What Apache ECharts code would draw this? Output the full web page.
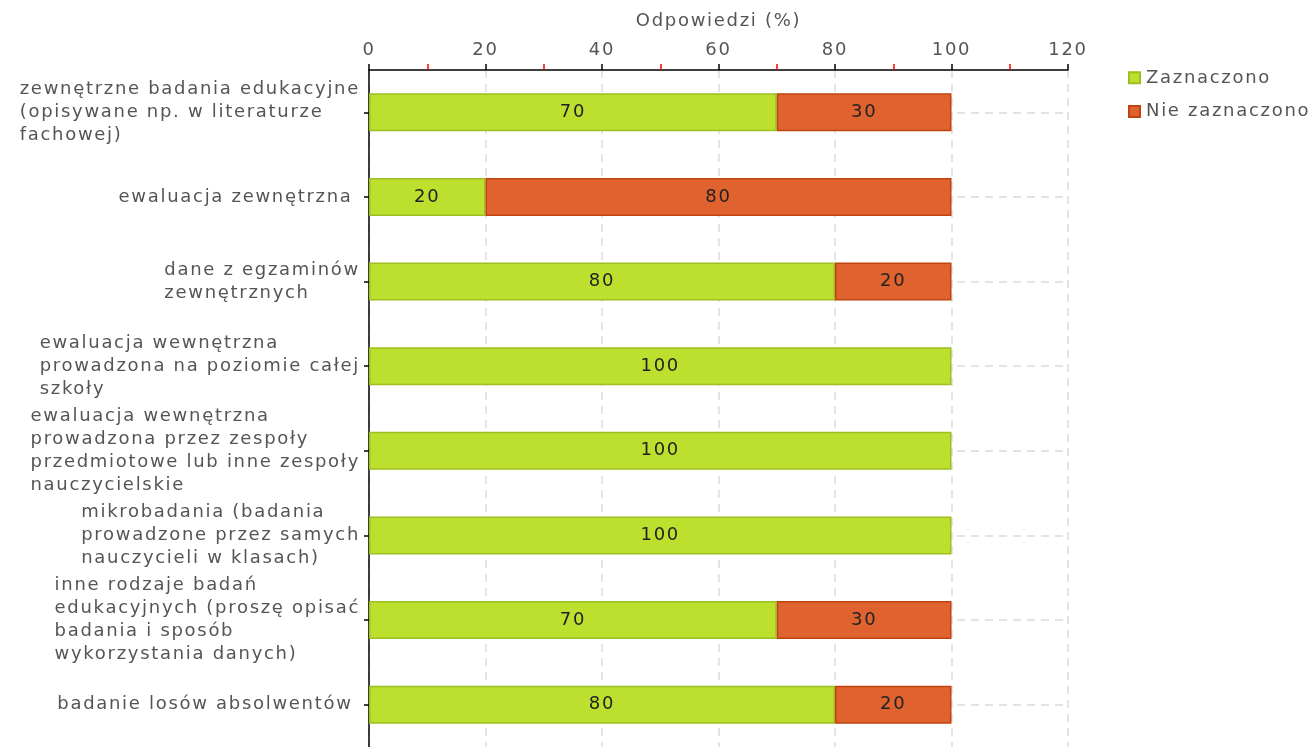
<!DOCTYPE html>
<html>
<head>
<meta charset="utf-8">
<script src="https://cdn.jsdelivr.net/npm/echarts@6/dist/echarts.min.js"></script>
<style>
html,body{margin:0;padding:0;background:#fff;}
#chart{width:1312px;height:747px;}
</style>
</head>
<body>
<div id="chart"></div>
<script>
const categories = [
  "zewnętrzne badania edukacyjne\n(opisywane np. w literaturze\nfachowej)",
  "ewaluacja zewnętrzna ",
  "dane z egzaminów\nzewnętrznych",
  "ewaluacja wewnętrzna\nprowadzona na poziomie całej\nszkoły",
  "ewaluacja wewnętrzna\nprowadzona przez zespoły\nprzedmiotowe lub inne zespoły\nnauczycielskie",
  "mikrobadania (badania\nprowadzone przez samych\nnauczycieli w klasach)",
  "inne rodzaje badań\nedukacyjnych (proszę opisać\nbadania i sposób\nwykorzystania danych)",
  "badanie losów absolwentów "
];
const seriesNames = ["Zaznaczono", "Nie zaznaczono"];
const zaznaczono = [70, 20, 80, 100, 100, 100, 70, 80];
const nieZaznaczono = [30, 80, 20, 0, 0, 0, 30, 20];
const axisTicks = [0, 20, 40, 60, 80, 100, 120];

// wider letter spacing, as in the reference rendering
(function () {
  const LS = '1.7px';
  const P = CanvasRenderingContext2D.prototype;
  const ft = P.fillText, st = P.strokeText, mt = P.measureText;
  P.fillText = function () { try { this.letterSpacing = LS; } catch (e) {} return ft.apply(this, arguments); };
  P.strokeText = function () { try { this.letterSpacing = LS; } catch (e) {} return st.apply(this, arguments); };
  P.measureText = function () { try { this.letterSpacing = LS; } catch (e) {} return mt.apply(this, arguments); };
})();

const FONT = '"DejaVu Sans", Verdana, sans-serif';
const FS = 18;
const chart = echarts.init(document.getElementById('chart'));

const labelStyle = {
  show: true,
  position: 'inside',
  color: '#222',
  fontFamily: FONT,
  fontSize: FS,
  formatter: p => (p.value ? String(p.value) : '')
};

chart.setOption({
  animation: false,
  textStyle: { fontFamily: FONT },
  grid: { left: 369, right: 244, top: 70, bottom: -7, containLabel: false },
  legend: {
    orient: 'vertical',
    left: 1123,
    top: 63,
    icon: 'rect',
    itemWidth: 11,
    itemHeight: 11,
    itemGap: 14,
    textStyle: { color: '#555', fontSize: FS, fontFamily: FONT, padding: [0, 0, 0, 1] },
    data: seriesNames
  },
  xAxis: {
    type: 'value',
    position: 'top',
    min: axisTicks[0],
    max: axisTicks[axisTicks.length - 1],
    interval: 20,
    name: 'Odpowiedzi (%)',
    nameLocation: 'middle',
    nameGap: 39,
    nameTextStyle: { color: '#555', fontSize: FS, fontFamily: FONT },
    axisLine: { show: true, lineStyle: { color: '#000', width: 1.5 } },
    axisTick: { show: true, length: 6, lineStyle: { color: '#000', width: 1.5 } },
    minorTick: { show: true, splitNumber: 2, length: 6, lineStyle: { color: '#ff0000', width: 1.5 } },
    axisLabel: { color: '#555', fontSize: FS, fontFamily: FONT, margin: 10 },
    splitLine: { show: true, lineStyle: { color: '#dcdcdc', type: [8, 6], width: 1.5 } }
  },
  yAxis: {
    type: 'category',
    inverse: true,
    data: categories,
    axisLine: { show: true, lineStyle: { color: '#000', width: 1.5 } },
    axisTick: { show: true, alignWithLabel: true, length: 5, lineStyle: { color: '#000', width: 1.5 } },
    splitLine: { show: true, alignWithLabel: true, lineStyle: { color: '#dcdcdc', type: [8, 6], width: 1.5 } },
    axisLabel: {
      margin: 9,
      color: '#555',
      fontSize: FS,
      lineHeight: 23,
      fontFamily: FONT,
      align: 'right',
      formatter: v => v.split('\n').map(l => '{l|' + l + '}').join('\n'),
      rich: { l: { align: 'left', color: '#555', fontSize: FS, lineHeight: 23, fontFamily: FONT } }
    }
  },
  series: [
    {
      name: seriesNames[0],
      type: 'bar',
      stack: 'total',
      barWidth: 38,
      itemStyle: { color: '#bde02e', borderColor: '#9dbf22', borderWidth: 1.5 },
      label: labelStyle,
      data: zaznaczono.map(v => (v === 0 ? '-' : v))
    },
    {
      name: seriesNames[1],
      type: 'bar',
      stack: 'total',
      barWidth: 38,
      itemStyle: { color: '#e0622e', borderColor: '#c0440f', borderWidth: 1.5 },
      label: labelStyle,
      data: nieZaznaczono.map(v => (v === 0 ? '-' : v))
    }
  ]
});
</script>
</body>
</html>
